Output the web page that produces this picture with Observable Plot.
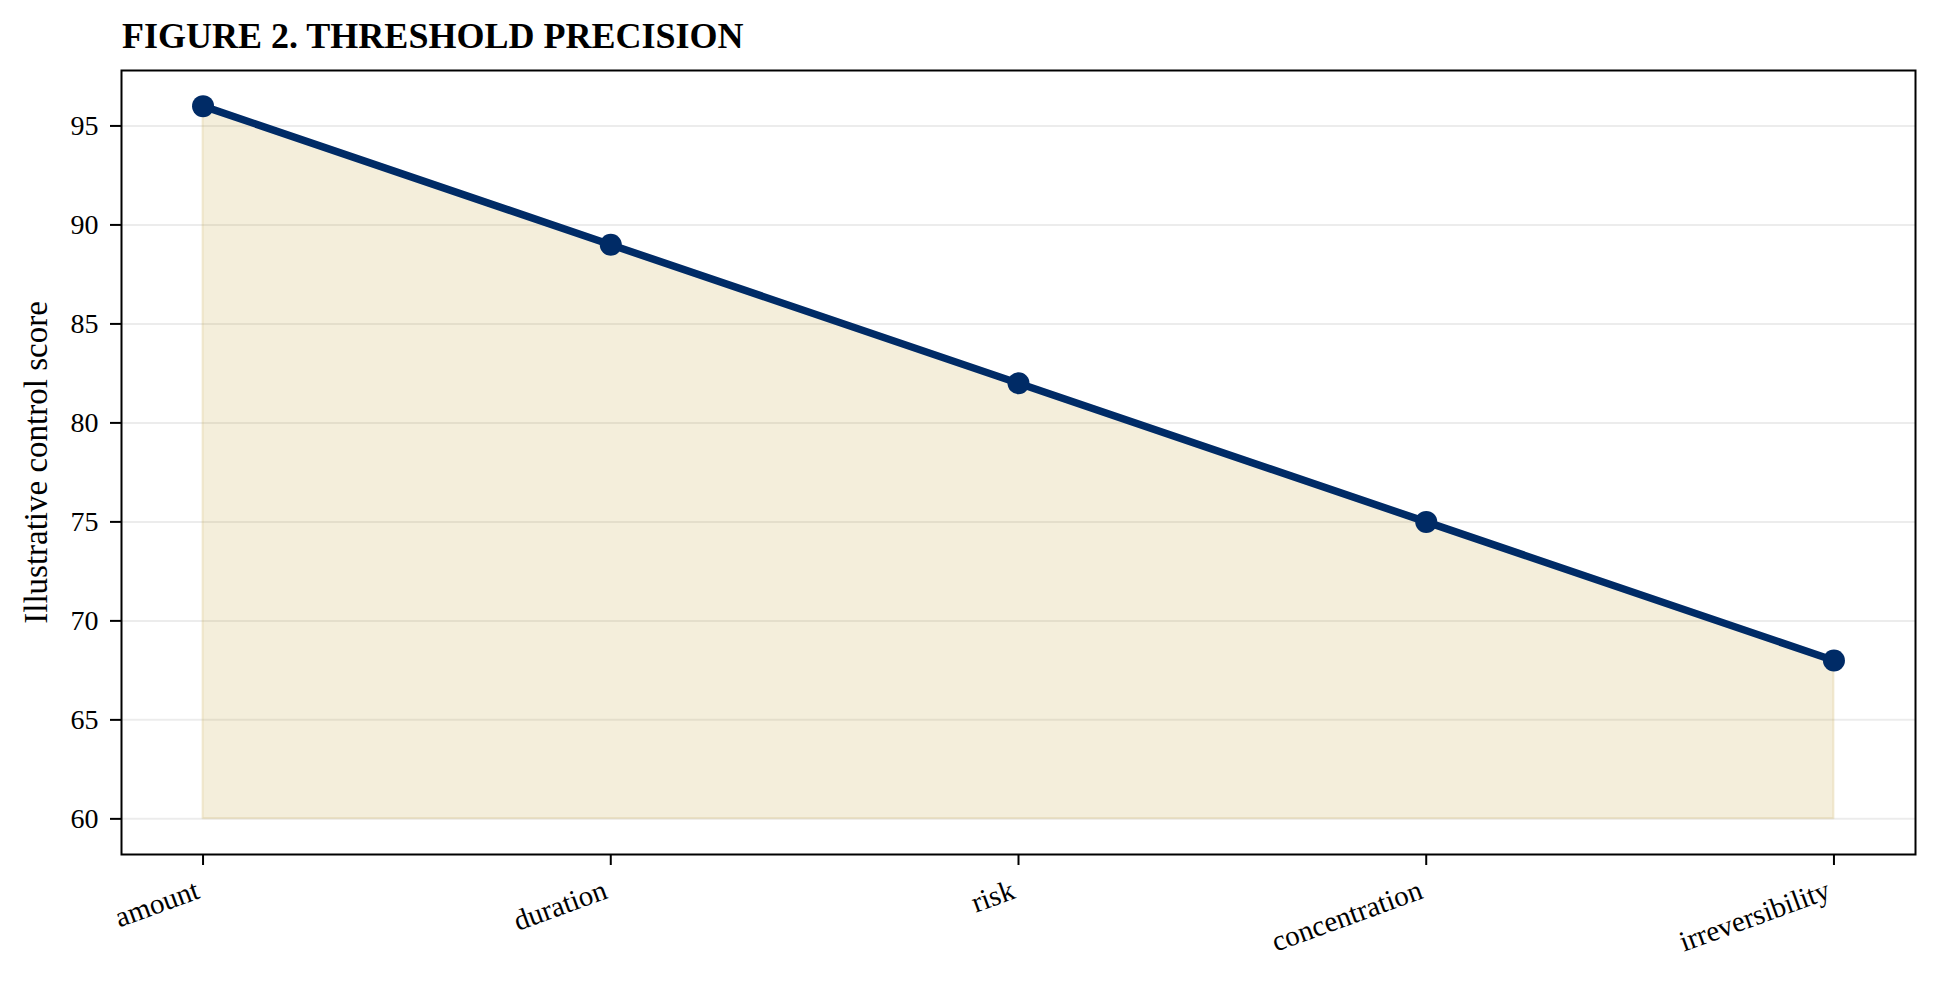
<!DOCTYPE html>
<html>
<head>
<meta charset="utf-8">
<script src="https://cdn.jsdelivr.net/npm/d3@7"></script>
<script src="https://cdn.jsdelivr.net/npm/@observablehq/plot@0.6"></script>
<style>
  html, body { margin: 0; padding: 0; background: #ffffff; }
  #wrap { position: relative; width: 1940px; height: 983px; }
  #title {
    position: absolute; left: 122px; top: 6px;
    font-family: "Liberation Serif", "Times New Roman", serif;
    font-weight: bold; font-size: 36px; line-height: 60px; color: #000;
    white-space: nowrap;
  }
</style>
</head>
<body>
<div id="wrap">
  <div id="chart"></div>
  <div id="title">FIGURE 2. THRESHOLD PRECISION</div>
</div>
<script>
const categories = ["amount", "duration", "risk", "concentration", "irreversibility"];
const scores = [96, 89, 82, 75, 68];
const yTicks = [60, 65, 70, 75, 80, 85, 90, 95];
const fillBase = 60;
const yLabel = "Illustrative control score";

const idx = categories.map((_, i) => i);
const navy = "#002b66";
const sand = "#c9a84c";

const chart = Plot.plot({
  width: 1940,
  height: 983,
  marginLeft: 121,
  marginRight: 25,
  marginTop: 70,
  marginBottom: 129,
  style: { fontFamily: "Liberation Serif, Times New Roman, serif", fontSize: "28px", background: "#ffffff", color: "#000" },
  x: { type: "linear", domain: [-0.2, 4.2] },
  y: { domain: [58.2, 97.8] },
  marks: [
    Plot.gridY(yTicks, { stroke: "#000", strokeOpacity: 0.075, strokeWidth: 2 }),
    Plot.areaY(idx, { x: i => i, y1: fillBase, y2: i => scores[i], fill: sand, fillOpacity: 0.2, stroke: sand, strokeOpacity: 0.2, strokeWidth: 2 }),
    Plot.lineY(idx, { x: i => i, y: i => scores[i], stroke: navy, strokeWidth: 7.5 }),
    Plot.dot(idx, { x: i => i, y: i => scores[i], r: 11, fill: navy, stroke: "none" }),
    Plot.frame({ stroke: "#000", strokeWidth: 2 }),
    Plot.axisY({ ticks: yTicks, tickSize: 11, tickPadding: 12, strokeWidth: 2, fontSize: 28, label: null }),
    Plot.axisX({ ticks: idx, tickSize: 11, strokeWidth: 2, tickFormat: () => "", label: null }),
    Plot.text(idx, { x: i => i, text: i => categories[i], frameAnchor: "bottom", dy: 24, dx: -9, rotate: -20, textAnchor: "end", lineAnchor: "top", fontSize: 29 }),
    Plot.text([yLabel], { text: d => d, frameAnchor: "left", dx: -85, rotate: -90, textAnchor: "middle", lineAnchor: "middle", fontSize: 33 })
  ]
});
document.getElementById("chart").appendChild(chart);
</script>
</body>
</html>
